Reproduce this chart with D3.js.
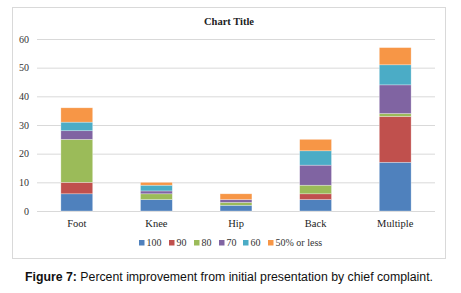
<!DOCTYPE html>
<html lang="en">
<head>
    <meta charset="UTF-8">
    <title>Percent improvement by chief complaint</title>
    <script src="https://d3js.org/d3.v7.min.js"></script>
    <style>
        body { margin: 0; background: #fff; }
        svg text { font-family: "Liberation Serif", "Times New Roman", serif; }
        .caption { font-family: "Liberation Sans", Arial, sans-serif; }
    </style>
</head>
<body>
    <div id="chart"></div>
    <script>
        // categories and series
        const categories = ["Foot", "Knee", "Hip", "Back", "Multiple"];
        const seriesNames = ["100", "90", "80", "70", "60", "50% or less"];
        const s100 = [6, 4, 2, 4, 17];
        const s90 = [4, 0, 0, 2, 16];
        const s80 = [15, 2, 1, 3, 1];
        const s70 = [3, 1, 1, 7, 10];
        const s60 = [3, 2, 0, 5, 7];
        const s50 = [5, 1, 2, 4, 6];
        const yTicks = [0, 10, 20, 30, 40, 50, 60];
        const colors = ["#4f81bd", "#c0504d", "#9bbb59", "#8064a2", "#4bacc6", "#f79646"];

        const width = 461, height = 293;
        const margin = { left: 37, right: 26, top: 39, bottom: 82 };

        const svg = d3.select("#chart").append("svg")
            .attr("width", width)
            .attr("height", height);

        // chart frame
        svg.append("rect")
            .attr("x", 12.5).attr("y", 7.5)
            .attr("width", 433).attr("height", 251)
            .attr("fill", "#fff")
            .attr("stroke", "#d9d9d9");

        svg.append("text")
            .attr("x", 229).attr("y", 25)
            .attr("text-anchor", "middle")
            .attr("font-weight", "bold")
            .attr("font-size", "10.5px")
            .attr("fill", "#222")
            .text("Chart Title");

        const x = d3.scaleBand()
            .domain(categories)
            .range([margin.left, width - margin.right])
            .paddingInner(0.6)
            .paddingOuter(0.3);

        const y = d3.scaleLinear()
            .domain([0, 60])
            .range([height - margin.bottom, margin.top]);

        // gridlines
        svg.append("g")
            .selectAll("line")
            .data(yTicks)
            .enter().append("line")
            .attr("x1", margin.left).attr("x2", width - margin.right)
            .attr("y1", d => y(d) + 0.5).attr("y2", d => y(d) + 0.5)
            .attr("stroke", "#d9d9d9");

        const yAxis = svg.append("g")
            .attr("transform", `translate(${margin.left},0)`)
            .call(d3.axisLeft(y).tickValues(yTicks).tickSize(0).tickPadding(8));
        yAxis.select(".domain").remove();
        yAxis.selectAll("text").attr("font-size", "10px").attr("fill", "#333")
            .style("font-family", "'Liberation Serif', serif");

        const xAxis = svg.append("g")
            .attr("transform", `translate(0,${y(0)})`)
            .call(d3.axisBottom(x).tickSize(0).tickPadding(9));
        xAxis.select(".domain").remove();
        xAxis.selectAll("text").attr("font-size", "10.5px").attr("fill", "#222")
            .style("font-family", "'Liberation Serif', serif");

        // stacked bars
        const rows = categories.map((c, i) => ({
            cat: c,
            "100": s100[i], "90": s90[i], "80": s80[i],
            "70": s70[i], "60": s60[i], "50% or less": s50[i]
        }));
        const stacked = d3.stack().keys(seriesNames)(rows);

        svg.append("g")
            .selectAll("g")
            .data(stacked)
            .enter().append("g")
            .attr("fill", (d, i) => colors[i])
            .selectAll("rect")
            .data(d => d.filter(p => p[1] > p[0]))
            .enter().append("rect")
            .attr("x", d => x(d.data.cat))
            .attr("width", x.bandwidth())
            .attr("y", d => y(d[1]))
            .attr("height", d => y(d[0]) - y(d[1]))
            .attr("stroke", "#fff")
            .attr("stroke-opacity", 0.5)
            .attr("stroke-width", 0.6);

        // legend
        const legendX = [139, 169, 194, 219, 243, 268];
        const legend = svg.append("g")
            .selectAll("g")
            .data(seriesNames)
            .enter().append("g")
            .attr("transform", (d, i) => `translate(${legendX[i]},240)`);
        legend.append("rect")
            .attr("width", 5.5).attr("height", 5.5)
            .attr("fill", (d, i) => colors[i]);
        legend.append("text")
            .attr("x", 7.5).attr("y", 6)
            .attr("font-size", "10px")
            .attr("fill", "#333")
            .text(d => d);

        // figure caption
        const cap = svg.append("text")
            .attr("class", "caption")
            .attr("x", 229).attr("y", 281)
            .attr("text-anchor", "middle")
            .attr("font-size", "12.3px")
            .attr("fill", "#111");
        cap.append("tspan").attr("font-weight", "bold").text("Figure 7:");
        cap.append("tspan").text(" Percent improvement from initial presentation by chief complaint.");
    </script>
</body>
</html>
